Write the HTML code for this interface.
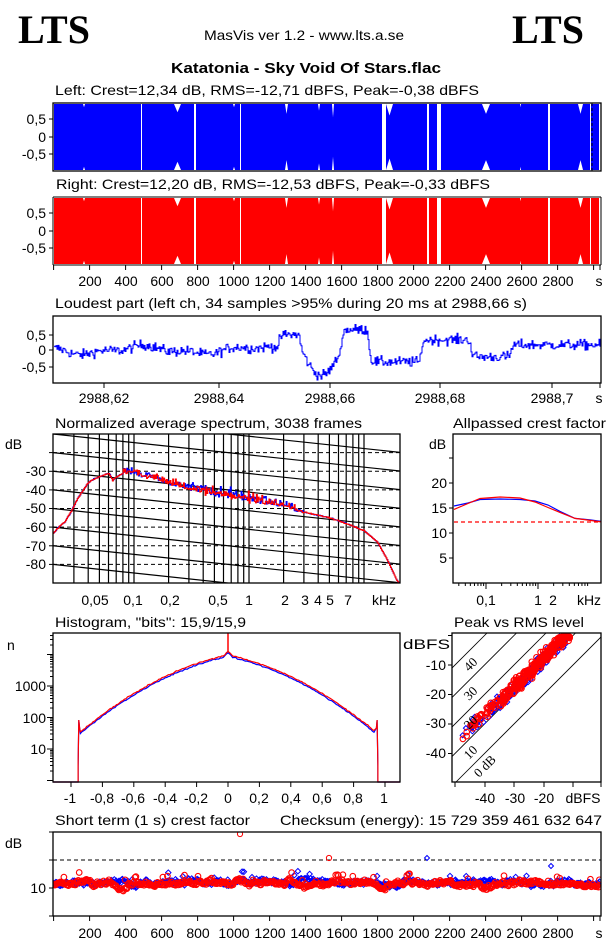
<!DOCTYPE html>
<html><head><meta charset="utf-8"><style>
html,body{margin:0;padding:0;background:#fff;}
svg{display:block;font-family:"Liberation Sans",sans-serif;}
</style></head><body>
<svg id="s" width="606" height="946" viewBox="0 0 606 946" xmlns="http://www.w3.org/2000/svg">
<rect width="606" height="946" fill="#fff"/>
<g id="data"></g>
<g font-size="14" fill="#000">
<text x="18" y="43" font-family="Liberation Serif,serif" font-weight="bold" font-size="40">LTS</text>
<text x="512" y="43" font-family="Liberation Serif,serif" font-weight="bold" font-size="40">LTS</text>
<text x="204" y="40" font-size="14" textLength="200" lengthAdjust="spacingAndGlyphs">MasVis ver 1.2 - www.lts.a.se</text>
<text x="171" y="73" font-weight="bold" font-size="15" textLength="270" lengthAdjust="spacingAndGlyphs">Katatonia - Sky Void Of Stars.flac</text>
<text x="55" y="95" textLength="424" lengthAdjust="spacingAndGlyphs">Left: Crest=12,34 dB, RMS=-12,71 dBFS, Peak=-0,38 dBFS</text>
<text x="56" y="189" textLength="434" lengthAdjust="spacingAndGlyphs">Right: Crest=12,20 dB, RMS=-12,53 dBFS, Peak=-0,33 dBFS</text>
<g text-anchor="end">
<text x="46" y="124">0,5</text><text x="46" y="142">0</text><text x="46" y="159">-0,5</text>
<text x="46" y="218">0,5</text><text x="46" y="236">0</text><text x="46" y="253">-0,5</text>
<text x="46" y="340">0,5</text><text x="46" y="355">0</text><text x="46" y="372">-0,5</text>
</g>
<g text-anchor="middle">
<text x="90" y="286">200</text><text x="126" y="286">400</text><text x="162" y="286">600</text><text x="198" y="286">800</text><text x="234" y="286">1000</text><text x="270" y="286">1200</text><text x="306" y="286">1400</text><text x="342" y="286">1600</text><text x="378" y="286">1800</text><text x="414" y="286">2000</text><text x="450" y="286">2200</text><text x="486" y="286">2400</text><text x="522" y="286">2600</text><text x="558" y="286">2800</text><text x="599" y="286">s</text>
<text x="104" y="403">2988,62</text><text x="219" y="403">2988,64</text><text x="330" y="403">2988,66</text><text x="440" y="403">2988,68</text><text x="552" y="403">2988,7</text><text x="599" y="403">s</text>
<text x="95" y="605">0,05</text><text x="133" y="605">0,1</text><text x="170" y="605">0,2</text><text x="218" y="605">0,5</text><text x="249" y="605">1</text><text x="285" y="605">2</text><text x="305" y="605">3</text><text x="318" y="605">4</text><text x="330" y="605">5</text><text x="348" y="605">7</text><text x="384" y="605">kHz</text>
<text x="486" y="605">0,1</text><text x="538" y="605">1</text><text x="553" y="605">2</text><text x="589" y="605">kHz</text>
<text x="70" y="803">-1</text><text x="102" y="803">-0,8</text><text x="133" y="803">-0,6</text><text x="165" y="803">-0,4</text><text x="196" y="803">-0,2</text><text x="228" y="803">0</text><text x="259" y="803">0,2</text><text x="291" y="803">0,4</text><text x="322" y="803">0,6</text><text x="353" y="803">0,8</text><text x="384" y="803">1</text>
<text x="485" y="803">-40</text><text x="515" y="803">-30</text><text x="544" y="803">-20</text><text x="583" y="803">dBFS</text>
<text x="90" y="938">200</text><text x="126" y="938">400</text><text x="162" y="938">600</text><text x="198" y="938">800</text><text x="234" y="938">1000</text><text x="270" y="938">1200</text><text x="306" y="938">1400</text><text x="342" y="938">1600</text><text x="378" y="938">1800</text><text x="414" y="938">2000</text><text x="450" y="938">2200</text><text x="486" y="938">2400</text><text x="522" y="938">2600</text><text x="558" y="938">2800</text><text x="599" y="938">s</text>
</g>
<text x="55" y="308" textLength="472" lengthAdjust="spacingAndGlyphs">Loudest part (left  ch, 34 samples &gt;95% during 20 ms at 2988,66 s)</text>
<text x="55" y="428" textLength="307" lengthAdjust="spacingAndGlyphs">Normalized average spectrum, 3038 frames</text>
<text x="453" y="428" textLength="153" lengthAdjust="spacingAndGlyphs">Allpassed crest factor</text>
<text x="5" y="449">dB</text><text x="429" y="449">dB</text>
<g text-anchor="end">
<text x="46" y="476">-30</text><text x="46" y="495">-40</text><text x="46" y="513">-50</text><text x="46" y="532">-60</text><text x="46" y="551">-70</text><text x="46" y="569">-80</text>
<text x="447" y="488">20</text><text x="447" y="513">15</text><text x="447" y="538">10</text><text x="447" y="563">5</text>
<text x="46" y="691">1000</text><text x="46" y="723">100</text><text x="46" y="754">10</text>
<text x="446" y="670">-10</text><text x="446" y="699">-20</text><text x="446" y="728">-30</text><text x="446" y="758">-40</text>
<text x="46" y="893">10</text>
</g>
<text x="55" y="627" textLength="191" lengthAdjust="spacingAndGlyphs">Histogram, "bits": 15,9/15,9</text>
<text x="454" y="627" textLength="130" lengthAdjust="spacingAndGlyphs">Peak vs RMS level</text>
<text x="7" y="650">n</text>
<text x="403" y="649" textLength="47" lengthAdjust="spacingAndGlyphs">dBFS</text>
<text x="55" y="825" textLength="195" lengthAdjust="spacingAndGlyphs">Short term (1 s) crest factor</text>
<text x="280" y="825" textLength="322" lengthAdjust="spacingAndGlyphs">Checksum (energy):  15 729 359 461 632 647</text>
<text x="5" y="848">dB</text>
<g font-family="Liberation Serif,serif" font-size="13">
<text transform="translate(469,672) rotate(-45)">40</text>
<text transform="translate(469,701) rotate(-45)">30</text>
<text transform="translate(469,730) rotate(-45)">20</text>
<text transform="translate(469,760) rotate(-45)">10</text>
<text transform="translate(479,778) rotate(-45)">0 dB</text>
</g>
</g>
</svg>
<script>
(function(){
var seed=12345;function R(){seed=(seed*1103515245+12345)%2147483648;return seed/2147483648;}
function G(){return (R()+R()+R()+R()-2)/1.15;}
var h=[];
function L(x1,y1,x2,y2,c,w,d){h.push('<line x1="'+x1+'" y1="'+y1+'" x2="'+x2+'" y2="'+y2+'" stroke="'+(c||'#000')+'" stroke-width="'+(w||1)+'"'+(d?' stroke-dasharray="'+d+'"':'')+'/>');}
function P(pts,c,w){h.push('<polyline fill="none" stroke="'+c+'" stroke-width="'+(w||1)+'" points="'+pts.map(function(p){return p[0].toFixed(1)+','+p[1].toFixed(1)}).join(' ')+'"/>');}
function box(x1,y1,x2,y2){h.push('<rect x="'+x1+'" y="'+y1+'" width="'+(x2-x1)+'" height="'+(y2-y1)+'" fill="none" stroke="#000" stroke-width="1.3"/>');}
h.push('<defs><clipPath id="cs"><rect x="53" y="434" width="347" height="149"/></clipPath><clipPath id="cp"><rect x="452" y="633" width="149" height="149"/></clipPath><clipPath id="cst"><rect x="53" y="832" width="548" height="84"/></clipPath></defs>');
var gaps=[[83,2,0.1],[141,1,1],[174,7,0.25],[194,2,1],[233,2,0.1],[240,1,1],[285,3,0.3],[318,2,0.2],[332,2,0.4],[382,4,1],[386,7,0.35],[427,2,1],[437,4,1],[482,8,0.3],[520,1,0.1],[548,2,1],[578,5,0.3],[590,1,1],[599,2,1]];
function wave(y1,y2,col){
 h.push('<rect x="54" y="'+y1+'" width="546" height="'+(y2-y1)+'" fill="'+col+'"/>');
 gaps.forEach(function(g){var d=(y2-y1)*g[2]/2;
  if(g[2]>=1)h.push('<rect x="'+g[0]+'" y="'+y1+'" width="'+g[1]+'" height="'+(y2-y1)+'" fill="#fff"/>');
  else{h.push('<polygon fill="#fff" points="'+g[0]+','+y1+' '+(g[0]+g[1])+','+y1+' '+(g[0]+g[1]/2)+','+(y1+d)+'"/>');
   h.push('<polygon fill="#fff" points="'+g[0]+','+y2+' '+(g[0]+g[1])+','+y2+' '+(g[0]+g[1]/2)+','+(y2-d)+'"/>');}
 });}
wave(104,170,'#0000ff');L(592,103,592,171,'#000',1,'3,2');
wave(198,264,'#ff0000');
box(53,103,601,171);L(53,197,601,197);L(53,197,53,265);L(601,197,601,265);L(53,265,601,265);
[[119,137,154],[213,231,248],[335,350,367]].forEach(function(a){a.forEach(function(y){L(49,y,53,y);});});
for(var i=0;i<=15;i++){var x=53.6+i*36;if(x>601)x=600;L(x,265,x,270);L(x,916,x,921);}
L(600,265,600,270);L(600,916,600,921);
// loudest
var lp=[],s=0;for(var x=54;x<=600;x+=1){
 var base=0.1*Math.sin(x/18)+0.05*Math.sin(x/7);
 if(x>278&&x<300)base=0.45;if(x>300&&x<340)base=-0.75*Math.sin((x-300)/40*Math.PI);
 if(x>340&&x<368)base=0.6;if(x>368&&x<420)base=-0.35;if(x>420&&x<470)base=0.3;if(x>470&&x<510)base=-0.2;if(x>510&&x<600)base=0.15;
 s=s*0.5+base*0.5;var v=s+G()*0.15;var y=350-v*34;y=Math.max(317,Math.min(381,y));lp.push([x,y]);lp.push([x+1,y]);}
P(lp,'#0000ff',1);box(53,316,601,383);
[104,219,330,440,552,600].forEach(function(x){L(x,383,x,388);});
// spectrum
function fx(f){return 249+115*Math.log10(f);}function dy(d){return 434+(-10-d)*1.8625;}
var fl=[];[0.01,0.1,1].forEach(function(m){for(var k=1;k<=9;k++)fl.push(m*k);});fl.push(10);
h.push('<g clip-path="url(#cs)">');
fl.forEach(function(f){if(f>=0.03)L(fx(f).toFixed(1),434,fx(f).toFixed(1),583,'#000',1.2);});
for(var d=-20;d>=-80;d-=10)L(53,dy(d),400,dy(d),'#000',1,'4,3');
for(var k=-2;k<10;k++){var y0=434+k*18.625;L(53,y0,400,y0+37,'#000',1.2);}
var sk=[[0.02,-63],[0.022,-60],[0.025,-57],[0.028,-52],[0.032,-45],[0.036,-40],[0.04,-36],[0.045,-34],[0.05,-33],[0.06,-31],[0.065,-35],[0.07,-33],[0.08,-31],[0.1,-32],[0.15,-34],[0.2,-37],[0.3,-40],[0.5,-43],[1,-46],[2,-49],[3,-52],[5,-55],[7,-58],[10,-62],[13,-68],[16,-78],[19,-88],[20,-90]];
function sv(f){for(var i=0;i<sk.length-1;i++){if(f<=sk[i+1][0]){var a=Math.log(sk[i][0]),b=Math.log(sk[i+1][0]),t=(Math.log(f)-a)/(b-a);return sk[i][1]+t*(sk[i+1][1]-sk[i][1]);}}return -90;}
function spec(col){var p=[];for(var x=53;x<=400;x+=0.9){var f=Math.pow(10,(x-249)/115);var d=sv(f);
 var n=(f>0.08&&f<3)?(f>0.3&&f<1.5?3:2):(f<10?0.6:0.3);var sp=(f>0.08&&f<2.5)?Math.abs(G())*n*1.5:0;d+=G()*n*0.5+sp;var y=dy(d);p.push([x,y]);p.push([x+0.9,y]);}P(p,col,1.1);}
spec('#0000ff');spec('#ff0000');
h.push('</g>');box(53,434,400,583);
[452.6,471.3,489.9,508.5,527.1,545.8,564.4].forEach(function(y){L(49,y,53,y);});
// allpass
function ax(f){return 538+52*Math.log10(f);}
function ap(pts,col){P(pts.map(function(p){return [p[0],583-p[1]*4.97];}),col,1.2);}
ap([[454,15.5],[468,16.1],[480,16.8],[500,16.9],[520,16.8],[535,16.5],[548,15.7],[560,14.4],[575,13.0],[590,12.7],[601,12.4]],'#0000ff');
ap([[454,14.8],[468,16.0],[480,17.0],[500,17.3],[520,17.1],[535,16.3],[548,15.2],[560,14.2],[575,13.0],[590,12.6],[601,12.3]],'#ff0000');
L(454,522,601,522,'#ff0000',1.2,'4,3');
box(453,434,601,583);
[458,483,508,533,558].forEach(function(y){L(449,y,453,y);});
for(var m of [0.01,0.1,1])for(var k=1;k<=9;k++){var x=ax(m*k);if(x>454&&x<601)L(x,583,x,(k==1?589:586));}
// histogram
function hx(v){return 228+157*v;}
function hc(col,off){var p=[[53,782],[hx(-0.955),782],[hx(-0.955),765+off],[hx(-0.95),720],[hx(-0.945),728]];
 for(var v=-0.94;v<=0.94;v+=0.01){var a=Math.abs(v);var y=655+33*a+52*a*a+(a<0.03?-4*(1-a/0.03):0)+G()*0.6+off;p.push([hx(v),y]);}
 p.push([hx(0.945),728],[hx(0.95),720],[hx(0.955),765+off],[hx(0.955),782],[400,782]);P(p,col,1.2);}
hc('#0000ff',1.5);hc('#ff0000',0);
L(hx(0),633,hx(0),652,'#ff0000',1.5);
box(53,633,400,782);
for(var dd=-1;dd<=4;dd++){for(var k=1;k<=9;k++){var y=749-31.5*(dd+Math.log10(k));if(y>633&&y<782)L(k==1?47:50,y,53,y);}}
for(var v=-1.2;v<=1.2;v+=0.2){var x=hx(v);if(x>53&&x<400)L(x,782,x,787);}
// peak vs rms
function px(r){return 455+(r+50)*2.95;}function py(p){return 635.5-p*2.95;}
h.push('<g clip-path="url(#cp)">');
[0,10,20,30,40].forEach(function(c){L(px(-55),py(-55+c),px(5),py(5+c),'#000',0.8);});
for(var i=0;i<200;i++){var r=-48+Math.pow(R(),0.6)*36;var c=12+G()*2.6+(r<-35?1:0);var p=Math.min(-0.3,r+c);
 h.push('<path d="M'+(px(r)-2.5).toFixed(1)+' '+py(p).toFixed(1)+'l2.5 -2.5l2.5 2.5l-2.5 2.5z" fill="none" stroke="#0000ff"/>');}
for(var i=0;i<320;i++){var r=-48+Math.pow(R(),0.55)*37;var c=12.5+G()*2.4+(r<-35?1:0);var p=Math.min(-0.5,r+c);
 h.push('<circle cx="'+px(r).toFixed(1)+'" cy="'+py(p).toFixed(1)+'" r="2.8" fill="none" stroke="#ff0000" stroke-width="1.1"/>');}
h.push('</g>');box(452,633,601,782);
[635.5,665,694.5,724,753.5].forEach(function(y){L(448,y,452,y);});
[455,485,514,544,573,601].forEach(function(x){L(x,782,x,787);});
// short term crest
function sy(d){return 916-d*2.77;}
L(53,860,601,860,'#000',1,'4,3');
h.push('<g clip-path="url(#cst)">');
function stc(dia,off){var w=0;for(var x=54;x<=600;x+=0.9){w=w*0.85+G()*0.5;var d=11.3+w*1.3+Math.abs(G())*1.0+off;if(R()<0.04)d+=2.5;var y=sy(d);
 if(dia)h.push('<path d="M'+(x-2.7).toFixed(1)+' '+y.toFixed(1)+'l2.7 -2.7l2.7 2.7l-2.7 2.7z" fill="none" stroke="#0000ff"/>');
 else h.push('<circle cx="'+x.toFixed(1)+'" cy="'+y.toFixed(1)+'" r="2.8" fill="none" stroke="#ff0000" stroke-width="1.1"/>');}}
stc(true,0.3);stc(false,0);
h.push('<circle cx="240" cy="834" r="2.6" fill="none" stroke="#f00"/><circle cx="329" cy="858" r="2.6" fill="none" stroke="#f00"/><path d="M424.5 858l2.5-2.5l2.5 2.5l-2.5 2.5z" fill="none" stroke="#00f"/><path d="M548.5 866l2.5-2.5l2.5 2.5l-2.5 2.5z" fill="none" stroke="#00f"/>');
h.push('</g>');box(53,832,601,916);
[832,860,888,916].forEach(function(y){L(49,y,53,y);});
document.getElementById('data').innerHTML=h.join('');
})();
</script>
</body></html>
